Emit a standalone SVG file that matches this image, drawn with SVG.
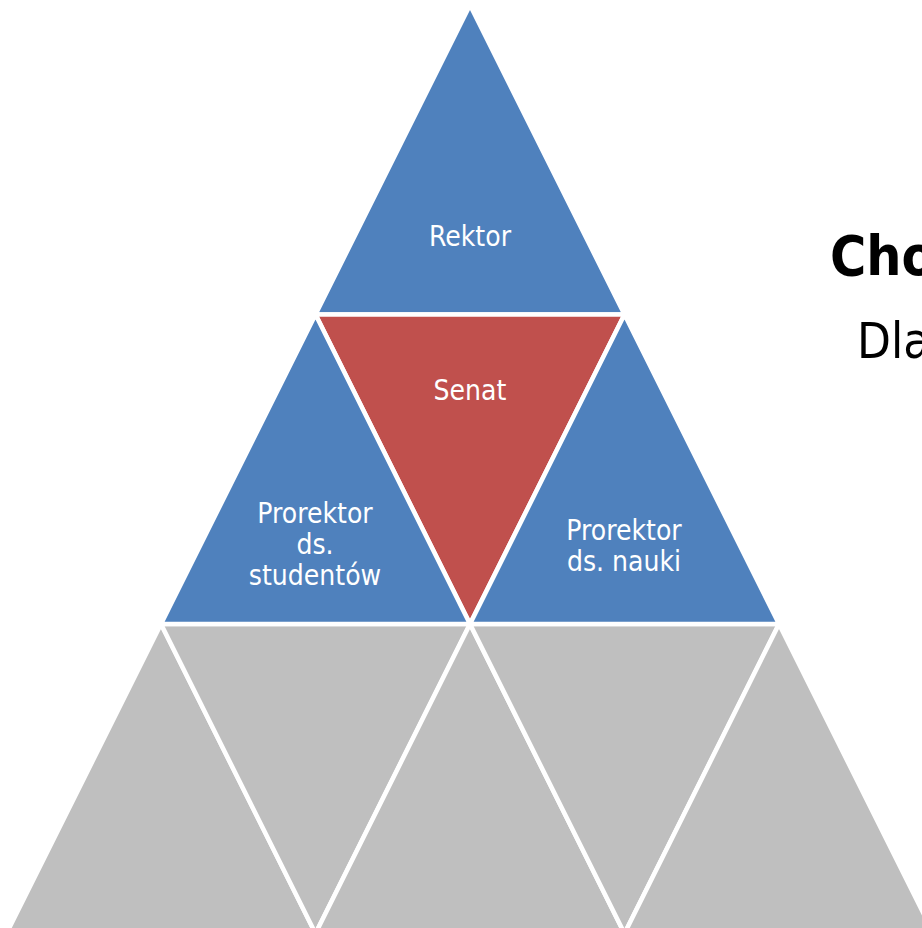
<svg xmlns="http://www.w3.org/2000/svg" width="922" height="928" viewBox="0 0 922 928">
<style>
.tri{stroke:#FFFFFF;stroke-width:4.5;stroke-linejoin:miter}
.blue{fill:#4F81BD}
.red{fill:#C0504D}
.gray{fill:#BFBFBF}
.lbl{font-family:'DejaVu Sans Condensed','DejaVu Sans',sans-serif;font-stretch:condensed;font-size:28px;fill:#FFFFFF;text-anchor:middle}
.title{font-family:'DejaVu Sans Condensed','DejaVu Sans',sans-serif;font-stretch:condensed;fill:#000000}
</style>
<rect width="922" height="928" fill="#FFFFFF"/>
<g id="row3">
<polygon id="g1" class="tri gray" points="161,624 315.5,933.5 6.5,933.5"/>
<polygon id="g2" class="tri gray" points="161,624 470,624 315.5,933.5"/>
<polygon id="g3" class="tri gray" points="470,624 624.5,933.5 315.5,933.5"/>
<polygon id="g4" class="tri gray" points="470,624 779,624 624.5,933.5"/>
<polygon id="g5" class="tri gray" points="779,624 933.5,933.5 624.5,933.5"/>
</g>
<g id="rektor">
<polygon class="tri blue" points="470,5 624.5,314.5 315.5,314.5"/>
<text class="lbl" x="470" y="246">Rektor</text>
</g>
<g id="senat">
<polygon class="tri red" points="315.5,314.5 624.5,314.5 470,624"/>
<text class="lbl" x="470" y="400">Senat</text>
</g>
<g id="prorektor-studentow">
<polygon class="tri blue" points="315.5,314.5 470,624 161,624"/>
<text class="lbl" x="315" y="523">Prorektor</text>
<text class="lbl" x="315" y="554">ds.</text>
<text class="lbl" x="315" y="585">studentów</text>
</g>
<g id="prorektor-nauki">
<polygon class="tri blue" points="624.5,314.5 779,624 470,624"/>
<text class="lbl" x="624" y="540">Prorektor</text>
<text class="lbl" x="624" y="571">ds. nauki</text>
</g>
<g id="connectors"></g>
<g id="heading">
<text class="title" x="830" y="275" font-size="55" font-weight="bold">Cho</text>
<text class="title" x="857" y="358" font-size="49">Dla</text>
</g>
</svg>
